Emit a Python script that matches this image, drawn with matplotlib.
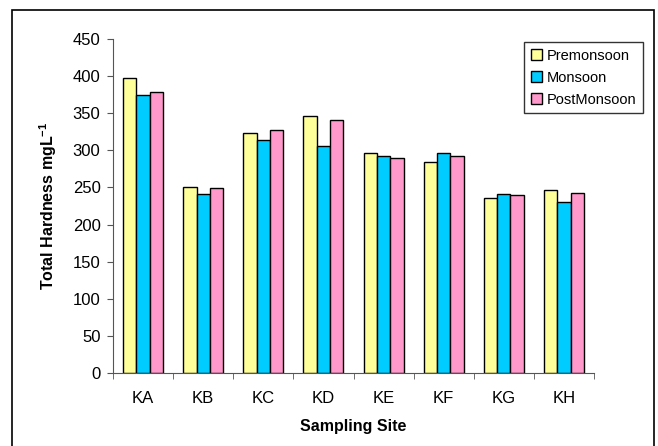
import numpy as np
import matplotlib.pyplot as plt
from matplotlib.patches import Rectangle

plt.rcParams['font.family'] = ['Liberation Sans', 'DejaVu Sans']
plt.rcParams['mathtext.fontset'] = 'custom'
plt.rcParams['mathtext.bf'] = 'Liberation Sans:bold'
plt.rcParams['mathtext.rm'] = 'Liberation Sans'

sites = ["KA", "KB", "KC", "KD", "KE", "KF", "KG", "KH"]
premonsoon = [398, 250, 323, 346, 296, 284, 236, 247]
monsoon = [374, 241, 314, 306, 292, 296, 241, 231]
postmonsoon = [379, 249, 327, 341, 290, 292, 240, 242]

fig = plt.figure(figsize=(6.58, 4.46), dpi=100)
ax = fig.add_axes([113/658, 1 - 373/446, (594 - 113)/658, (373 - 39)/446])

x = np.arange(len(sites))
w = 0.222
ax.bar(x - w, premonsoon, w, color='#FFFF99', edgecolor='black', linewidth=1, label='Premonsoon')
ax.bar(x, monsoon, w, color='#00CCFF', edgecolor='black', linewidth=1, label='Monsoon')
ax.bar(x + w, postmonsoon, w, color='#FF99CC', edgecolor='black', linewidth=1, label='PostMonsoon')

ax.set_xlim(-0.5, len(sites) - 0.5)
ax.set_ylim(0, 450)
ax.set_yticks(range(0, 451, 50))
ax.set_xticks(x)
ax.set_xticklabels(sites, fontsize=12)
ax.set_xticks(np.arange(-0.5, len(sites)), minor=True)
ax.tick_params(axis='x', which='major', length=0, pad=13)
ax.tick_params(axis='x', which='minor', length=4, color='#555555')
ax.tick_params(axis='y', length=4, color='#555555', labelsize=12, pad=5)
for s in ['top', 'right']:
    ax.spines[s].set_visible(False)
for s in ['left', 'bottom']:
    ax.spines[s].set_color('#555555')

ax.set_xlabel('Sampling Site', fontsize=11.5, fontweight='bold', labelpad=9)
ax.set_ylabel(r'Total Hardness mgL$^{\mathbf{-1}}$', fontsize=11.5, fontweight='bold', labelpad=10)

leg = fig.legend(loc='upper left', bbox_to_anchor=(524/658, 1 - 42/446), fontsize=10.5,
                 frameon=True, fancybox=False, edgecolor='black', handlelength=0.75,
                 handleheight=0.75, handletextpad=0.35, borderpad=0.45, labelspacing=0.55,
                 borderaxespad=0)
leg.get_frame().set_linewidth(1)

fig.patches.append(Rectangle((12/658, -0.05), (654 - 12)/658, 1.05 - 10/446,
                             transform=fig.transFigure, fill=False,
                             edgecolor='black', linewidth=1.2))

fig.savefig('out.png', dpi=100)
